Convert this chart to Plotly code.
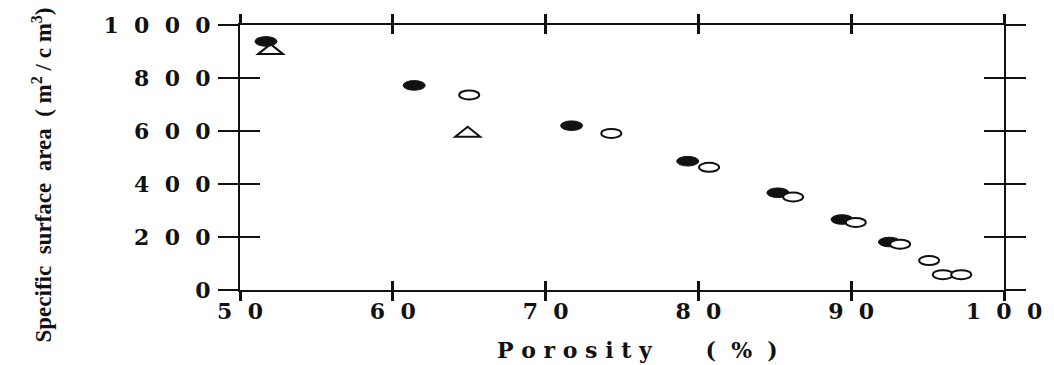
import plotly.graph_objects as go

# ---- data ----
filled_x = [51.7, 61.4, 71.7, 79.3, 85.2, 89.4, 92.5]
filled_y = [938, 772, 620, 486, 367, 266, 181]
open_x = [65.0, 74.3, 80.7, 86.2, 90.3, 93.2, 95.1, 96.0, 97.2]
open_y = [736, 591, 463, 351, 255, 173, 111, 58, 58]
tri_x = [52.0, 64.9]
tri_y = [909, 597]

x_tick_values = [50, 60, 70, 80, 90, 100]
x_tick_labels = ["50", "60", "70", "80", "90", "100"]
y_tick_values = [0, 200, 400, 600, 800, 1000]
y_tick_labels = ["0", "200", "400", "600", "800", "1000"]

x_title = "Porosity"
x_unit = "(%)"
y_title_words = ["Specific", "surface", "area", "(\u00a0m<sup>2</sup>\u00a0/\u00a0c\u00a0m<sup>3</sup>)"]

NB = "\u00a0"


def spaced(s, sep):
    return sep.join(list(s))


INK = "#111111"
tick_font = dict(family="DejaVu Serif", size=22, color=INK, weight="bold")

fig = go.Figure()

# data carriers (markers drawn as pixel-sized shapes anchored at the data)
fig.add_trace(go.Scatter(x=filled_x, y=filled_y, mode="markers",
                         marker=dict(size=10, color="rgba(0,0,0,0)"),
                         showlegend=False, hoverinfo="x+y"))
fig.add_trace(go.Scatter(x=open_x, y=open_y, mode="markers",
                         marker=dict(size=10, color="rgba(0,0,0,0)"),
                         showlegend=False, hoverinfo="x+y"))
fig.add_trace(go.Scatter(x=tri_x, y=tri_y, mode="markers", xaxis="x2", yaxis="y2",
                         marker=dict(size=10, color="rgba(0,0,0,0)"),
                         showlegend=False, hoverinfo="x+y"))

shapes = []
for x, y in zip(tri_x, tri_y):
    shapes.append(dict(type="path", xref="x", yref="y", xsizemode="pixel", ysizemode="pixel",
                       xanchor=x, yanchor=y, path="M-12.5,-5 L12.5,-5 L0,5 Z",
                       fillcolor="white", line=dict(color=INK, width=2), layer="above"))
for x, y in zip(filled_x, filled_y):
    shapes.append(dict(type="circle", xref="x", yref="y", xsizemode="pixel", ysizemode="pixel",
                       xanchor=x, yanchor=y, x0=-11, x1=11, y0=-4.8, y1=4.8,
                       fillcolor=INK, line=dict(color=INK, width=1), layer="above"))
for x, y in zip(open_x, open_y):
    shapes.append(dict(type="circle", xref="x", yref="y", xsizemode="pixel", ysizemode="pixel",
                       xanchor=x, yanchor=y, x0=-10, x1=10, y0=-4.5, y1=4.5,
                       fillcolor="white", line=dict(color=INK, width=2), layer="above"))

fig.update_layout(
    width=1054, height=365,
    margin=dict(l=240, r=48, t=19, b=75),
    paper_bgcolor="white", plot_bgcolor="white",
    shapes=shapes,
    xaxis=dict(range=[50, 100], tickmode="array", tickvals=x_tick_values,
               ticktext=[spaced(t, NB * 2) for t in x_tick_labels],
               ticks="outside", ticklen=9, tickwidth=3, tickcolor=INK,
               showline=True, linewidth=2, linecolor=INK, mirror="allticks",
               showgrid=False, zeroline=False, tickfont=tick_font, ticklabelstandoff=-8),
    xaxis2=dict(range=[50, 100], overlaying="x", matches="x", anchor="y2", side="bottom",
                tickmode="array", tickvals=x_tick_values, ticks="inside", ticklen=9,
                tickwidth=3, tickcolor=INK, mirror="allticks", showticklabels=False,
                showline=False, showgrid=False, zeroline=False),
    yaxis=dict(range=[0, 1000], tickmode="array", tickvals=y_tick_values,
               ticktext=[spaced(t, NB * 2) for t in y_tick_labels],
               ticks="outside", ticklen=20, tickwidth=2, tickcolor=INK,
               showline=True, linewidth=2, linecolor=INK, mirror="allticks",
               showgrid=False, zeroline=False, tickfont=tick_font, ticklabelstandoff=3),
    yaxis2=dict(range=[0, 1000], overlaying="y", matches="y", anchor="x2", side="left",
                tickmode="array", tickvals=y_tick_values, ticks="inside", ticklen=20,
                tickwidth=2, tickcolor=INK, mirror="allticks", showticklabels=False,
                showline=False, showgrid=False, zeroline=False),
    annotations=[
        dict(text=spaced(x_title, NB) + NB * 7 + spaced(x_unit, NB * 2), xref="paper", yref="paper",
             x=0.52, y=0, yshift=-60, xanchor="center", yanchor="middle", showarrow=False,
             font=dict(family="DejaVu Serif", size=22, color=INK, weight="bold")),
        dict(text=(NB * 2).join(y_title_words), xref="paper", yref="paper",
             x=0, xshift=-198, y=0.5, yshift=-18, xanchor="center", yanchor="middle",
             textangle=-90, showarrow=False,
             font=dict(family="Liberation Serif", size=23, color=INK, weight="bold")),
    ],
)

fig.write_html("out.html")
